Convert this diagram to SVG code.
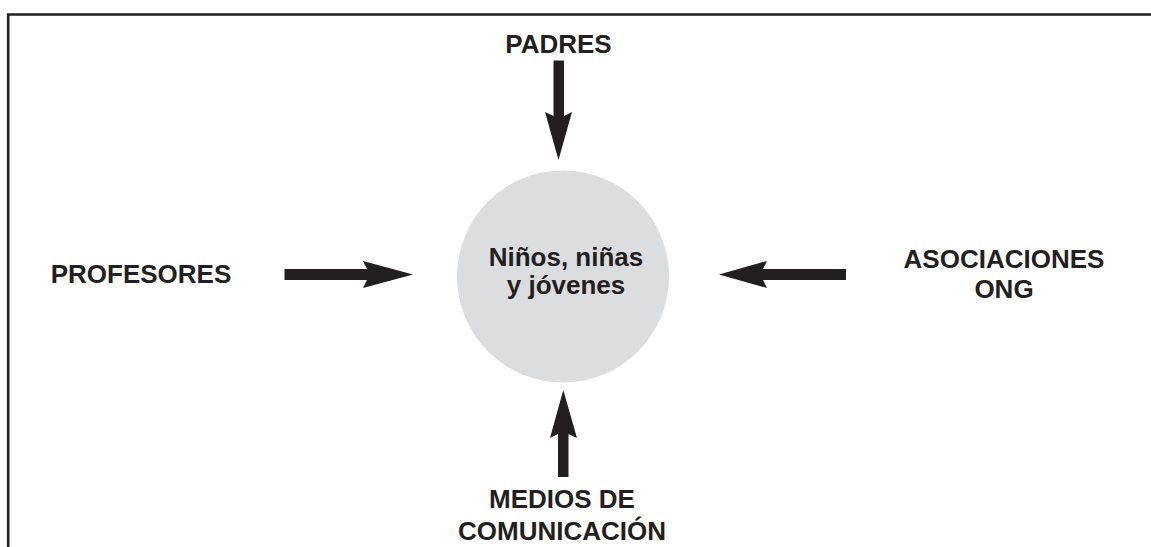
<svg xmlns="http://www.w3.org/2000/svg" width="1151" height="547" viewBox="0 0 1151 547">
<style>
.t{font-family:"Liberation Sans",Arial,sans-serif;font-weight:bold;font-size:26px;fill:#231f20;text-anchor:middle}
.arr{fill:#231f20}
</style>
<rect width="1151" height="547" fill="#fff"/>
<path d="M8.2,548 L8.2,14.5 L1152,14.5" fill="none" stroke="#231f20" stroke-width="2.6"/>
<g id="center">
<circle cx="563" cy="276.5" r="106" fill="#dcdddf"/>
<text class="t" x="566" y="265.5">Niños, niñas</text>
<text class="t" x="566" y="294">y jóvenes</text>
</g>
<g id="padres"><text class="t" x="558.5" y="53">PADRES</text></g>
<g id="profesores"><text class="t" x="141" y="283">PROFESORES</text></g>
<g id="asociaciones"><text class="t" x="1004" y="268">ASOCIACIONES</text><text class="t" x="1004" y="298">ONG</text></g>
<g id="medios"><text class="t" x="562" y="508">MEDIOS DE</text><text class="t" x="562" y="540">COMUNICACIÓN</text></g>
<g id="connectors">
<polygon class="arr" points="553.5,60.5 564,60.5 564,116 572,112 558.5,160 545,112 553.5,116"/>
<polygon class="arr" points="558,477 568.5,477 568.5,434 577,438 563.3,390 550,438 558,434"/>
<polygon class="arr" points="284.5,269 367,269 363,261 413,274.5 363,288 367,280 284.5,280"/>
<polygon class="arr" points="846,269 763,269 767,261 719,274.5 767,288 763,280 846,280"/>
</g>
</svg>
